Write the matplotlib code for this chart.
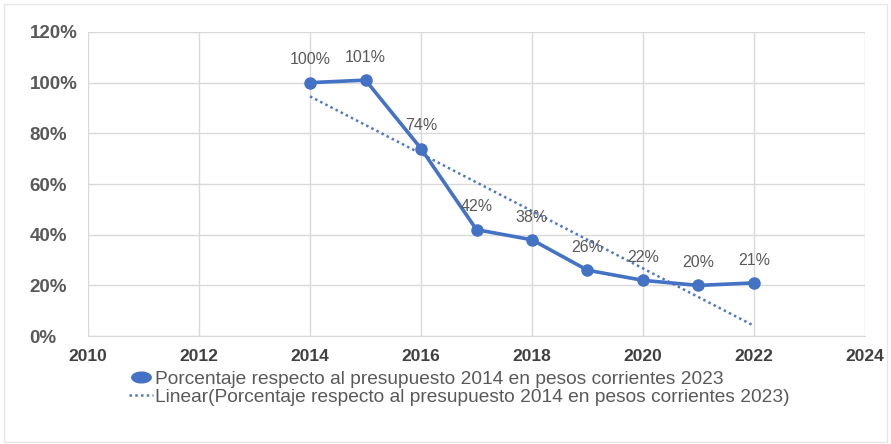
import numpy as np
import matplotlib.pyplot as plt
from matplotlib.ticker import PercentFormatter
from matplotlib.lines import Line2D
from matplotlib.path import Path

# values
years = [2014, 2015, 2016, 2017, 2018, 2019, 2020, 2021, 2022]
pct = [100, 101, 74, 42, 38, 26, 22, 20, 21]
labels = ["100%", "101%", "74%", "42%", "38%", "26%", "22%", "20%", "21%"]
x_ticks = [2010, 2012, 2014, 2016, 2018, 2020, 2022, 2024]
y_ticks = [0, 20, 40, 60, 80, 100, 120]

serie = "Porcentaje respecto al presupuesto 2014 en pesos corrientes 2023"
blue = "#4472C4"

plt.rcParams['font.family'] = ['Liberation Sans', 'DejaVu Sans']

fig = plt.figure(figsize=(8.91, 4.44), dpi=100)
ax = fig.add_axes([0.0988, 0.243, 0.872, 0.685])

# linear trend (Excel style)
slope, intercept = np.polyfit(years, pct, 1)
trend = [slope * x + intercept for x in years]

ax.plot(years, pct, color=blue, lw=2.6, marker="o", ms=8, zorder=3)
ax.plot(years, trend, color="#5079C2", lw=1.8, ls=(0, (1, 1.3)), zorder=2)

for x, y, t in zip(years, pct, labels):
    ax.annotate(t, (x, y), xytext=(0, 11), textcoords="offset points",
                ha="center", va="bottom", fontsize=11.5, color="#595959")

ax.set_xlim(2010, 2024)
ax.set_ylim(0, 120)
ax.set_xticks(x_ticks)
ax.set_yticks(y_ticks)
ax.yaxis.set_major_formatter(PercentFormatter(decimals=0))
ax.grid(True, color="#D9D9D9", lw=1)
ax.set_axisbelow(True)
for s in ["top", "right", "left"]:
    ax.spines[s].set_visible(False)
ax.spines["bottom"].set_color("#D9D9D9")
ax.tick_params(axis="x", length=0, pad=9)
ax.tick_params(axis="y", length=0, pad=42)
for lab in ax.get_xticklabels():
    lab.set_fontsize(12.5)
    lab.set_fontweight("bold")
    lab.set_color("#404040")
for lab in ax.get_yticklabels():
    lab.set_fontsize(13.5)
    lab.set_fontweight("bold")
    lab.set_color("#595959")
    lab.set_horizontalalignment("left")

# wide oval marker for legend like the stretched Excel export
t = np.linspace(0, 2 * np.pi, 40)
oval = Path(np.column_stack([np.cos(t) * 1.0, np.sin(t) * 0.55]))
handles = [
    Line2D([], [], color=blue, lw=0, marker=oval, ms=14),
    Line2D([], [], color="#5079C2", lw=1.8, ls=(0, (1, 1.3))),
]
fig.legend(handles, [serie, "Linear(" + serie + ")"],
           loc="upper left", bbox_to_anchor=(0.125, 0.205), frameon=False,
           handlelength=1.25, handletextpad=0.15, labelspacing=0.05,
           prop={'size': 13.8}, labelcolor="#595959")

fig.patches.append(plt.Rectangle((0.005, 0.005), 0.99, 0.985, transform=fig.transFigure,
                                 fill=False, edgecolor="#E6E6E6", lw=1))

plt.savefig("out.png", dpi=100)
